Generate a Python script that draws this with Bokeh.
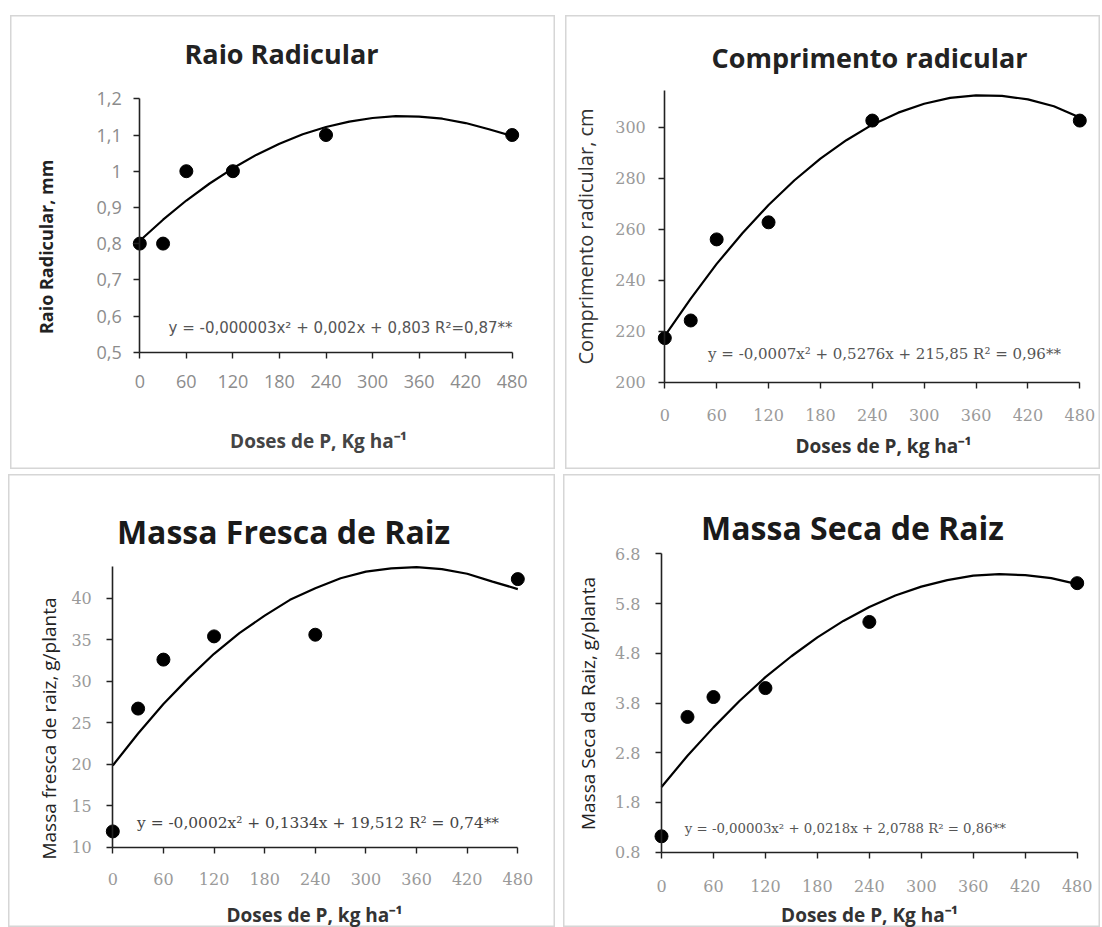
import math
from bokeh.plotting import figure
from bokeh.models import Range1d, FixedTicker, Label, Spacer
from bokeh.layouts import row, column
from bokeh.embed import file_html
from bokeh.resources import INLINE

# ---------------- data ----------------
doses = [0, 30, 60, 120, 240, 480]
fit_x = [0, 30, 60, 90, 120, 150, 180, 210, 240, 270, 300, 330, 360, 390, 420, 450, 480]
x_ticks = [0, 60, 120, 180, 240, 300, 360, 420, 480]

raio = [0.8, 0.8, 1.0, 1.0, 1.1, 1.1]
raio_fit = [0.808, 0.866, 0.919, 0.966, 1.008, 1.045, 1.076, 1.102, 1.122,
            1.137, 1.147, 1.152, 1.151, 1.145, 1.133, 1.116, 1.097]
raio_yticks = [0.5, 0.6, 0.7, 0.8, 0.9, 1.0, 1.1, 1.2]
raio_ylabels = ["0,5", "0,6", "0,7", "0,8", "0,9", "1", "1,1", "1,2"]

comp = [217.3, 224.2, 256.0, 262.7, 302.6, 302.6]
comp_fit = [218.2, 232.8, 246.4, 258.5, 269.5, 279.2, 287.7, 294.9, 301.0,
            305.7, 309.2, 311.5, 312.5, 312.3, 310.9, 308.2, 303.8]
comp_yticks = [200, 220, 240, 260, 280, 300]
comp_ylabels = ["200", "220", "240", "260", "280", "300"]

fresca = [11.9, 26.7, 32.6, 35.4, 35.6, 42.3]
fresca_fit = [19.85, 23.7, 27.25, 30.4, 33.3, 35.8, 37.9, 39.8, 41.2,
              42.4, 43.2, 43.6, 43.75, 43.5, 42.95, 42.0, 41.1]
fresca_yticks = [10, 15, 20, 25, 30, 35, 40]
fresca_ylabels = ["10", "15", "20", "25", "30", "35", "40"]

seca = [1.12, 3.52, 3.92, 4.10, 5.43, 6.21]
seca_fit = [2.11, 2.74, 3.31, 3.84, 4.32, 4.74, 5.12, 5.45, 5.73,
            5.96, 6.14, 6.27, 6.36, 6.39, 6.37, 6.31, 6.19]
seca_yticks = [0.8, 1.8, 2.8, 3.8, 4.8, 5.8, 6.8]
seca_ylabels = ["0.8", "1.8", "2.8", "3.8", "4.8", "5.8", "6.8"]

titles = ["Raio Radicular", "Comprimento radicular", "Massa Fresca de Raiz", "Massa Seca de Raiz"]
ylabels = ["Raio Radicular,  mm", "Comprimento radicular, cm",
           "Massa fresca de raiz, g/planta", "Massa Seca da Raiz, g/planta"]
xlabels = ["Doses de P, Kg ha\u207b\u00b9", "Doses de P, kg ha\u207b\u00b9",
           "Doses de P, kg ha\u207b\u00b9", "Doses de P, Kg ha\u207b\u00b9"]
equations = ["y = -0,000003x\u00b2 + 0,002x + 0,803 R\u00b2=0,87**",
             "y = -0,0007x\u00b2 + 0,5276x + 215,85 R\u00b2 = 0,96**",
             "y = -0,0002x\u00b2 + 0,1334x + 19,512  R\u00b2 = 0,74**",
             "y = -0,00003x\u00b2 + 0,0218x + 2,0788  R\u00b2 = 0,86**"]

SANS = "Open Sans"
R90 = math.pi / 2


def make_panel(box, axis_px, yspan, ybounds, yticks, ylabs, ys, fits,
               tick_font, tick_size, tick_color, x_std, y_std, texts):
    """box: (left, top, width, height) of the panel on the page.
    axis_px: page pixels of x=0, x=480, y=yspan[0], y=yspan[1]."""
    ox, oy, W, H = box
    X0, X1, Yb, Yt = axis_px
    kx = (X1 - X0) / 480.0
    ky = (Yb - Yt) / (yspan[1] - yspan[0])
    xs = -(X0 - ox) / kx
    xe = xs + W / kx
    ys0 = yspan[0] - (oy + H - Yb) / ky
    ye = ys0 + H / ky

    p = figure(width=W, height=H, output_backend="svg", toolbar_location=None,
               x_range=Range1d(xs, xe), y_range=Range1d(ys0, ye), min_border=0)
    p.min_border_left = p.min_border_right = p.min_border_top = p.min_border_bottom = 0
    p.outline_line_color = "#d6d6d6"
    p.outline_line_width = 2
    p.grid.visible = False
    p.background_fill_color = "white"
    p.border_fill_color = "white"

    xa = p.xaxis[0]
    ya = p.yaxis[0]
    xa.fixed_location = yspan[0]
    ya.fixed_location = 0
    xa.bounds = (0, 480)
    ya.bounds = ybounds
    xa.ticker = FixedTicker(ticks=x_ticks)
    ya.ticker = FixedTicker(ticks=yticks)
    ya.major_label_overrides = {t: s for t, s in zip(yticks, ylabs)}
    for ax in (xa, ya):
        ax.axis_line_color = "#222222"
        ax.axis_line_width = 1.6
        ax.major_tick_line_color = "#222222"
        ax.major_tick_line_width = 1.4
        ax.major_tick_out = 6
        ax.major_tick_in = 0
        ax.minor_tick_line_color = None
        ax.major_label_text_font = tick_font
        ax.major_label_text_font_size = tick_size
        ax.major_label_text_color = tick_color
    xa.major_label_standoff = x_std
    ya.major_label_standoff = y_std

    p.line(fit_x, fits, line_width=2.2, line_color="black")
    p.scatter(doses, ys, size=13, fill_color="black", line_color="black")

    for (txt, px, py, font, size, style, color, ang) in texts:
        p.add_layout(Label(x=px - ox, y=oy + H - py, x_units="screen", y_units="screen",
                           text=txt, text_font=font, text_font_size=size,
                           text_font_style=style, text_color=color,
                           text_align="center", text_baseline="middle", angle=ang))
    return p


p1 = make_panel((10, 15, 545, 454), (139.3, 511.7, 351.7, 98.3), (0.5, 1.2), (0.5, 1.2),
                raio_yticks, raio_ylabels, raio, raio_fit,
                SANS, "18px", "#8c8c8c", 17, 12,
                [(titles[0], 281, 53, SANS, "27px", "bold", "#222222", 0),
                 (ylabels[0], 45, 244, SANS, "18px", "bold", "#222222", R90),
                 (xlabels[0], 318, 440, SANS, "19px", "bold", "#444444", 0),
                 (equations[0], 340, 327, "DejaVu Sans", "15px", "normal", "#555555", 0)])

p2 = make_panel((565, 15, 535, 454), (664.3, 1079.3, 381.7, 126.7), (200, 300), (200, 314.4),
                comp_yticks, comp_ylabels, comp, comp_fit,
                "DejaVu Serif", "16px", "#9a9a9a", 21, 13,
                [(titles[1], 869, 57, SANS, "27px", "bold", "#222222", 0),
                 (ylabels[1], 585, 236, SANS, "20px", "normal", "#333333", R90),
                 (xlabels[1], 883, 445, SANS, "19px", "bold", "#333333", 0),
                 (equations[1], 884, 353, "DejaVu Serif", "15px", "normal", "#555555", 0)])

p3 = make_panel((8, 474, 547, 453), (112.3, 517.3, 846.7, 597.7), (10, 40), (10, 43.8),
                fresca_yticks, fresca_ylabels, fresca, fresca_fit,
                "DejaVu Serif", "16px", "#9a9a9a", 20, 15,
                [(titles[2], 283, 531, SANS, "32px", "bold", "#1a1a1a", 0),
                 (ylabels[2], 48, 728, SANS, "19px", "normal", "#222222", R90),
                 (xlabels[2], 314, 914, SANS, "19px", "bold", "#333333", 0),
                 (equations[2], 320, 822, "DejaVu Serif", "15.4px", "normal", "#444444", 0)])

p4 = make_panel((563, 474, 537, 453), (661.0, 1076.7, 851.7, 553.3), (0.8, 6.8), (0.8, 6.8),
                seca_yticks, seca_ylabels, seca, seca_fit,
                "DejaVu Serif", "16px", "#9a9a9a", 22, 15,
                [(titles[3], 852, 527, SANS, "32px", "bold", "#1a1a1a", 0),
                 (ylabels[3], 587, 703, SANS, "19px", "normal", "#222222", R90),
                 (xlabels[3], 869, 914, SANS, "19px", "bold", "#333333", 0),
                 (equations[3], 847, 828, "DejaVu Serif", "13.3px", "normal", "#555555", 0)])

layout = column(Spacer(height=15),
                row(Spacer(width=10), p1, Spacer(width=10), p2),
                Spacer(height=5),
                row(Spacer(width=8), p3, Spacer(width=8), p4))

open("out.html", "w").write(file_html(layout, INLINE))
